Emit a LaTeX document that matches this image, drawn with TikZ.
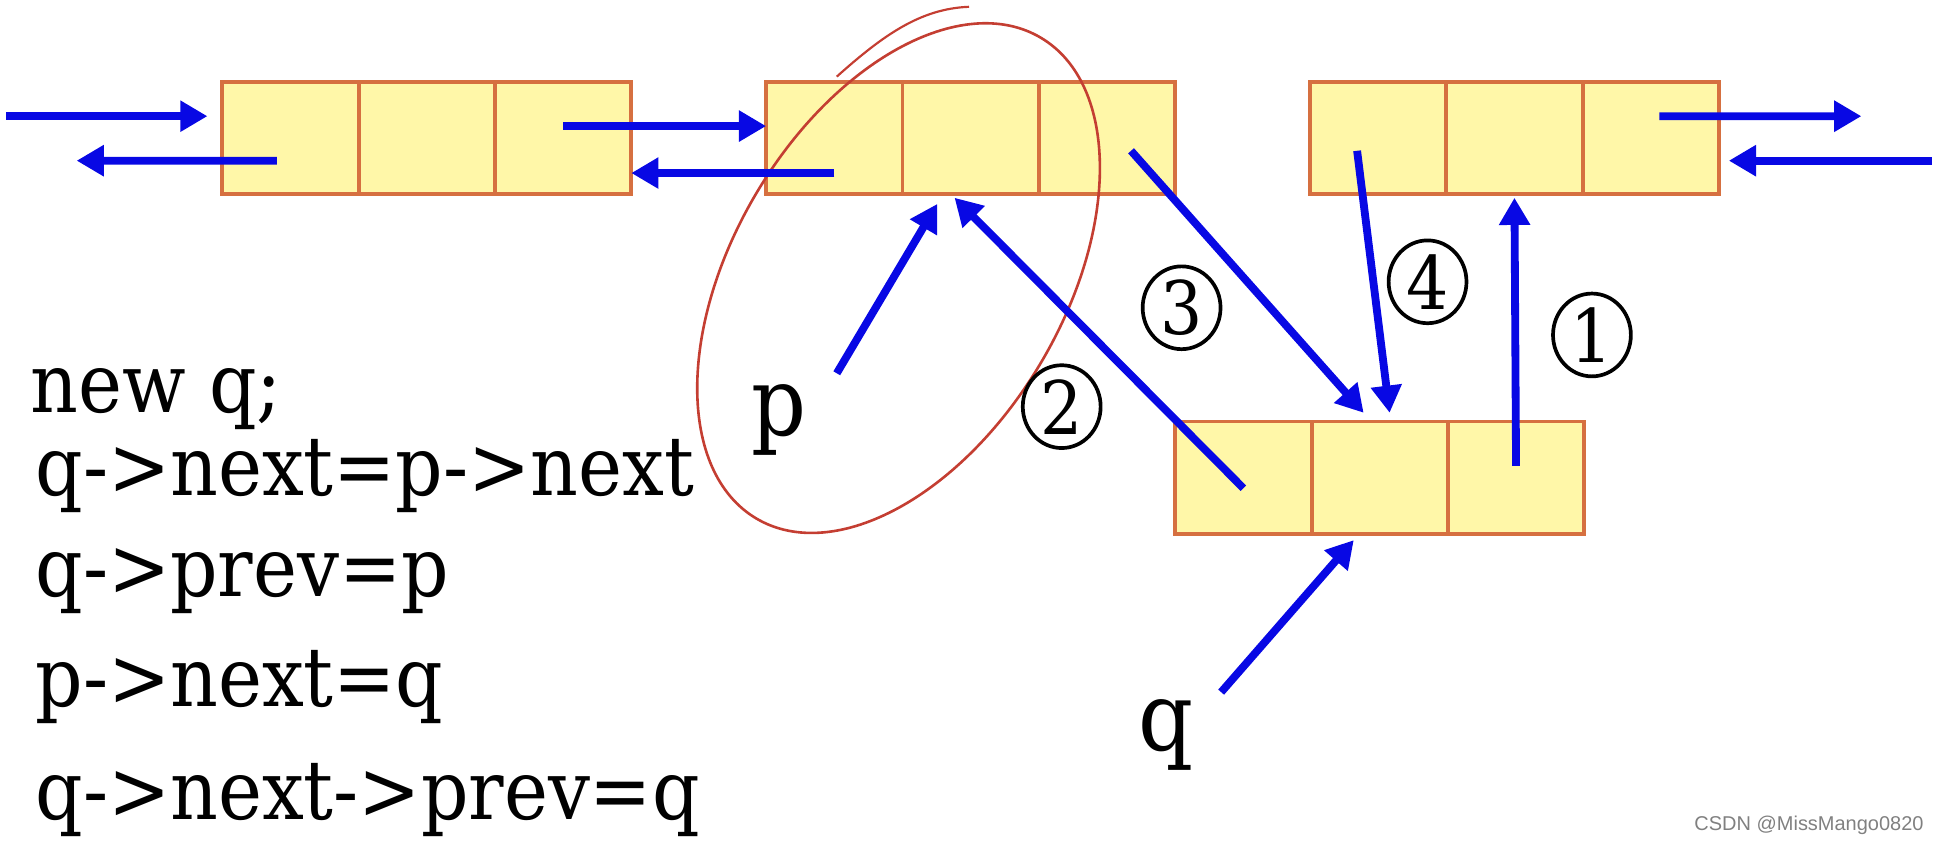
\documentclass[tikz,border=0pt]{standalone}
\usepackage{fontspec}
\usepackage{tikz}
\usetikzlibrary{shapes.geometric, arrows.meta, calc, positioning}
\newfontfamily\codefont{DejaVu Serif Condensed}
\newfontfamily\markfont{Liberation Sans}
\definecolor{cellfill}{RGB}{255,247,168}
\definecolor{cellline}{RGB}{214,112,64}
\definecolor{ptrblue}{RGB}{8,8,228}
\definecolor{markred}{RGB}{196,62,50}
\tikzstyle{cell} = [rectangle, draw=cellline, fill=cellfill, line width=0.9pt, minimum width=1.103cm, minimum height=0.91cm, inner sep=0pt, outer sep=0pt]
\tikzstyle{ptr} = [draw=ptrblue, line width=1.8pt, -{Triangle[length=2.2mm, width=2.4mm]}]
\tikzstyle{code} = [anchor=base west, inner sep=0pt, font=\codefont\fontsize{19}{23}\selectfont]
\tikzstyle{var} = [inner sep=0pt, font=\codefont\fontsize{22}{26}\selectfont]
\tikzstyle{stepno} = [ellipse, draw, line width=0.85pt, inner sep=0pt, minimum width=0.63cm, minimum height=0.67cm, font=\codefont\fontsize{17}{20}\selectfont]
\begin{document}
\begin{tikzpicture}[node distance = 0pt]
	\useasboundingbox (0,0) rectangle (15.68,-6.81);
	% the three nodes of the list and the new node q
	\node (n1a) [cell] at (2.35,-1.115) {};
	\node (n1b) [cell, right = of n1a] {};
	\node (n1c) [cell, right = of n1b] {};
	\node (n2a) [cell] at (6.75,-1.115) {};
	\node (n2b) [cell, right = of n2a] {};
	\node (n2c) [cell, right = of n2b] {};
	\node (n3a) [cell] at (11.15,-1.115) {};
	\node (n3b) [cell, right = of n3a] {};
	\node (n3c) [cell, right = of n3b] {};
	\node (n4a) [cell] at (10.06,-3.865) {};
	\node (n4b) [cell, right = of n4a] {};
	\node (n4c) [cell, right = of n4b] {};
	
	% red mark round p
	\draw [markred, line width=0.6pt, rotate around={59.4:(7.27,-2.25)}] (7.27,-2.25) ellipse (2.26 and 1.34);
	\draw [markred, line width=0.5pt] (6.77,-0.62) .. controls (7.15,-0.28) and (7.45,-0.07) .. (7.84,-0.055);
	
	\node (p) [var] at (6.30,-3.40) {p};
	\node (q) [var] at (9.43,-5.95) {q};
	\node (s3) [stepno] at (9.56,-2.49) {3};
	\node (s4) [stepno] at (11.55,-2.28) {4};
	\node (s1) [stepno] at (12.88,-2.71) {1};
	\node (s2) [stepno] at (8.59,-3.29) {2};
	
	\coordinate (inL) at (0.05,-0.94);
	\coordinate (outL) at (0.62,-1.30);
	\coordinate (outR) at (15.06,-0.94);
	\coordinate (inR) at (15.63,-1.30);
	\coordinate (pTail) at (6.77,-3.02);
	\coordinate (qTail) at (9.88,-5.60);
	
	\draw [ptr, shorten >=1.2mm] (inL) -- (inL -| n1a.west);
	\draw [ptr] ([shift={(-1.1mm,-1.85mm)}]n1a.center) -- (outL);
	\draw [ptr] ([yshift=0.95mm]n1c.center) -- ([yshift=0.95mm]n2a.west);
	\draw [ptr] ([yshift=-2.85mm]n2a.center) -- ([yshift=-2.85mm]n1c.east);
	\draw [ptr] ([shift={(0.7mm,1.75mm)}]n3c.center) -- (outR);
	\draw [ptr, shorten >=0.8mm] (inR) -- (inR -| n3c.east);
	\draw [ptr] (pTail) -- ([shift={(-2.7mm,-0.8mm)}]n2b.south);
	\draw [ptr] ([yshift=-0.85mm]n4a.center) -- ([shift={(-1.3mm,-0.3mm)}]n2b.south);
	\draw [ptr] ([shift={(1.95mm,-1.05mm)}]n2c.center) -- ([shift={(-1.3mm,0.7mm)}]n4b.north);
	\draw [ptr] ([shift={(-1.7mm,-1.05mm)}]n3a.center) -- ([shift={(0.8mm,0.7mm)}]n4b.north);
	\draw [ptr] ([yshift=0.95mm]n4c.center) -- ([yshift=-0.3mm]n3b.south);
	\draw [ptr] (qTail) -- ([shift={(-2.1mm,-0.5mm)}]n4b.south);
	
	% the code on the left
	\node (c1) [code] at (0.24,-3.34) {new q;};
	\node (c2) [code] at (0.28,-4.01) {q->next=p->next};
	\node (c3) [code] at (0.28,-4.83) {q->prev=p};
	\node (c4) [code] at (0.28,-5.72) {p->next=q};
	\node (c5) [code] at (0.28,-6.63) {q->next->prev=q};
	
	\node (mark) [anchor=base east, inner sep=0pt, text=gray, font=\markfont\fontsize{4.6}{5}\selectfont] at (15.57,-6.72) {CSDN @MissMango0820};
\end{tikzpicture}
\end{document}
